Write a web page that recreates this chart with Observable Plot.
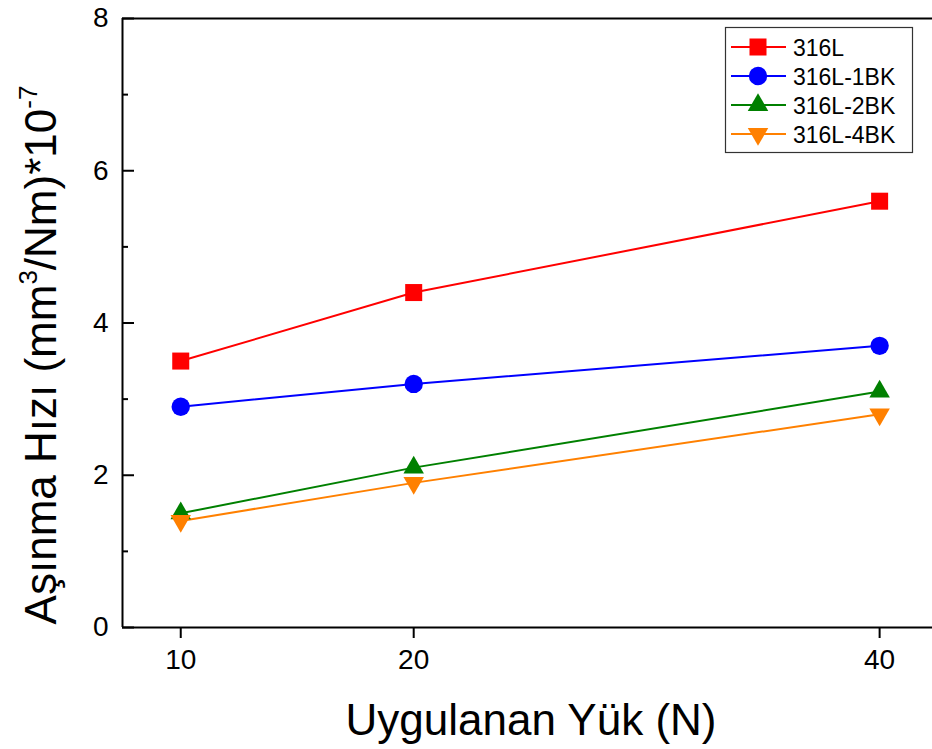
<!DOCTYPE html>
<html><head><meta charset="utf-8">
<script src="https://cdn.jsdelivr.net/npm/d3@7"></script>
<script src="https://cdn.jsdelivr.net/npm/@observablehq/plot@0.6"></script>
<style>body{margin:0;background:#fff} #chart svg{font-family: Arial, "Liberation Sans", sans-serif; background:#fff}</style>
</head><body><div id="chart"></div>
<script>
const loads = [10, 20, 40];
const series = ["316L", "316L-1BK", "316L-2BK", "316L-4BK"];
const v316L = [3.5, 4.4, 5.6];
const v1BK = [2.9, 3.2, 3.7];
const v2BK = [1.5, 2.1, 3.1];
const v4BK = [1.4, 1.9, 2.8];
const yTicks = [0, 2, 4, 6, 8];
const yMinor = [1, 3, 5, 7];
const xTicks = [10, 20, 40];
const colors = ["#ff0000", "#0000ff", "#008000", "#ff8000"];
const xLabel = "Uygulanan Yük (N)";

const values = [v316L, v1BK, v2BK, v4BK];
const data = series.flatMap((s, i) => loads.map((x, j) => ({series: s, load: x, rate: values[i][j]})));

const triDown = {
  draw(ctx, size) {
    const y = -Math.sqrt(size / (3 * Math.sqrt(3)));
    ctx.moveTo(0, -2 * y);
    ctx.lineTo(-Math.sqrt(3) * y, y);
    ctx.lineTo(Math.sqrt(3) * y, y);
    ctx.closePath();
  }
};
const symbols = [d3.symbolSquare, d3.symbolCircle, d3.symbolTriangle, triDown];
const radii = [9.6, 9.2, 7.6, 7.6];

const W = 932, H = 749;
const chart = Plot.plot({
  width: W, height: H,
  marginLeft: 122, marginRight: 0, marginTop: 18, marginBottom: 122,
  style: {fontFamily: "Arial, 'Liberation Sans', sans-serif", fontSize: "28px", color: "black", background: "white"},
  x: {domain: [7.5, 42.27], label: null},
  y: {domain: [0, 8], label: null},
  color: {domain: series, range: colors},
  marks: [
    Plot.ruleY([0, 8], {strokeWidth: 2}),
    Plot.ruleX([7.5], {strokeWidth: 2}),
    Plot.axisY({ticks: yTicks, tickSize: 0, tickPadding: 14, fontSize: 28, label: null}),
    Plot.axisY({ticks: yTicks, tickSize: -12, text: null, label: null, strokeWidth: 2}),
    Plot.axisY({ticks: yMinor, tickSize: -6, text: null, label: null, strokeWidth: 2}),
    Plot.axisX({ticks: xTicks, tickSize: 11, tickPadding: 11, fontSize: 28, label: null, strokeWidth: 2}),
    Plot.line(data, {x: "load", y: "rate", z: "series", stroke: "series", strokeWidth: 2}),
    ...series.map((s, i) => Plot.dot(data.filter(d => d.series === s), {
      x: "load", y: "rate", fill: colors[i], stroke: "none", symbol: symbols[i], r: radii[i]
    }))
  ]
});
document.getElementById("chart").appendChild(chart);

const svg = d3.select(chart);
// x axis title
svg.append("text").attr("x", 531).attr("y", 735).attr("text-anchor", "middle")
  .attr("font-size", 44).attr("fill", "black").text(xLabel);
// y axis title with superscripts
const yt = svg.append("text").attr("transform", "translate(56,355) rotate(-90)")
  .attr("text-anchor", "middle").attr("font-size", 44).attr("fill", "black");
yt.append("tspan").text("Aşınma Hızı (mm");
yt.append("tspan").attr("font-size", 26).attr("dy", -19).text("3");
yt.append("tspan").attr("dy", 19).text("/Nm)*10");
yt.append("tspan").attr("font-size", 26).attr("dy", -19).text("-7");

// legend
const lg = svg.append("g").attr("text-anchor", "start");
lg.append("rect").attr("x", 725.5).attr("y", 27.5).attr("width", 187).attr("height", 125)
  .attr("fill", "white").attr("stroke", "#333").attr("stroke-width", 1.2);
const rowsY = [47, 76, 105, 134];
series.forEach((s, i) => {
  const cy = rowsY[i];
  lg.append("line").attr("x1", 731).attr("x2", 786).attr("y1", cy).attr("y2", cy)
    .attr("stroke", colors[i]).attr("stroke-width", 2);
  const r = radii[i];
  lg.append("path").attr("transform", `translate(758,${cy})`)
    .attr("d", d3.symbol(symbols[i], Math.PI * r * r)()).attr("fill", colors[i]);
  lg.append("text").attr("x", 793).attr("y", cy + 8.5).attr("text-anchor", "start")
    .attr("font-size", 23).attr("fill", "black").text(s);
});
</script>
</body></html>
